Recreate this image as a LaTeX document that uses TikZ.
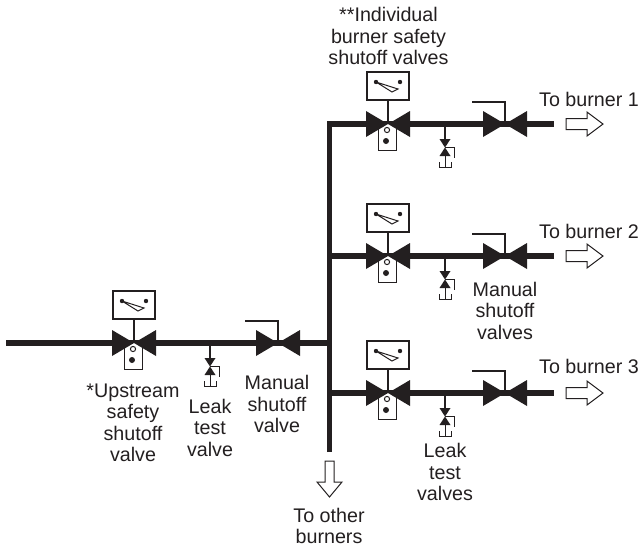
\documentclass[tikz,border=0pt]{standalone}
\usepackage{fontspec}
\setmainfont{Liberation Sans}
\definecolor{ink}{HTML}{231F20}
\tikzset{
  x=1pt,y=-1pt,
  pipe/.style={draw=ink,line width=5.5pt},
  thin line/.style={draw=ink,line width=1.7pt},
  fine/.style={draw=ink,line width=1pt},
  tri/.style={fill=ink,draw=none},
  label/.style={font=\fontsize{19.7}{21.5}\selectfont,text=ink,align=center,inner sep=0pt},
  hollow arrow/.style={draw=ink,line width=1pt,fill=white,line join=miter},
}
% #1 name, #2 x, #3 y
\newcommand{\safetyvalve}[3]{
  \begin{scope}[shift={(#2,#3)}]
    \coordinate (#1w) at (-22,0);
    \coordinate (#1e) at (22,0);
    \draw[fine,fill=white] (-10,0) -- (-10,26) -- (8,26) -- (8,0);
    \fill[ink] (-2,17) circle (3pt);
    \draw[thin line] (-21,-52) rectangle (21,-24);
    \draw[thin line] (0,-24) -- (0,0);
    \fill[tri] (-22,-13) -- (0,0) -- (-22,13) -- cycle;
    \fill[tri] (22,-13) -- (0,0) -- (22,13) -- cycle;
    \draw[fine,fill=white] (-1,6) circle (2.6pt);
    \fill[ink] (-12,-42) circle (2.2pt);
    \fill[ink] (12,-42) circle (2.2pt);
    \draw[fine] (-12,-42) -- (10,-35) -- (4,-32) -- (-12,-42);
  \end{scope}
}
\newcommand{\manualvalve}[3]{
  \begin{scope}[shift={(#2,#3)}]
    \coordinate (#1w) at (-22,0);
    \coordinate (#1e) at (22,0);
    \draw[draw=ink,line width=1.4pt] (-33,-22) -- (0,-22) -- (0,0);
    \fill[tri] (-22,-13) -- (0,0) -- (-22,13) -- cycle;
    \fill[tri] (22,-13) -- (0,0) -- (22,13) -- cycle;
  \end{scope}
}
\newcommand{\leakvalve}[3]{
  \begin{scope}[shift={(#2,#3)}]
    \coordinate (#1t) at (0,0);
    \draw[thin line] (0,0) -- (0,16);
    \fill[tri] (-5.5,15) -- (5.5,15) -- (0,23.5) -- cycle;
    \fill[tri] (-5.5,32) -- (5.5,32) -- (0,23.5) -- cycle;
    \draw[fine] (0,23.5) -- (9,23.5) -- (9,34);
    \draw[fine] (0,32) -- (0,43);
    \draw[fine] (-6,38) -- (-6,43) -- (6,43) -- (6,38);
  \end{scope}
}
\newcommand{\rightarrowshape}[3]{
  \draw[hollow arrow] (#2,#3-5.5) -- (#2+21,#3-5.5) -- (#2+21,#3-12) -- (#2+37,#3) -- (#2+21,#3+12) -- (#2+21,#3+5.5) -- (#2,#3+5.5) -- cycle;
}
\begin{document}
\begin{tikzpicture}
\useasboundingbox (0,0) rectangle (642,550);
% main pipes
\coordinate (inlet) at (6,343);
\coordinate (tee) at (329.5,343);
\coordinate (top) at (329.5,124);
\coordinate (bottom) at (329.5,452);
\coordinate (j2) at (329.5,256);
\coordinate (j3) at (329.5,393);
\coordinate (end1) at (554,124);
\coordinate (end2) at (554,256);
\coordinate (end3) at (554,393);
\path[pipe] (inlet) -- (tee);
\path[pipe] (bottom) -- (top) -- (end1);
\path[pipe] (j2) -- (end2);
\path[pipe] (j3) -- (end3);
% valves
\safetyvalve{a}{134}{343}
\leakvalve{al}{210}{343}
\manualvalve{am}{278}{343}
\safetyvalve{b}{388}{124}
\leakvalve{bl}{445}{124}
\manualvalve{bm}{505}{124}
\safetyvalve{c}{388}{256}
\leakvalve{cl}{445}{256}
\manualvalve{cm}{505}{256}
\safetyvalve{d}{388}{393}
\leakvalve{dl}{445}{393}
\manualvalve{dm}{505}{393}
% arrows
\rightarrowshape{r1}{566}{124}
\rightarrowshape{r2}{566}{256}
\rightarrowshape{r3}{566}{393}
\draw[hollow arrow] (325,461) -- (334,461) -- (334,482) -- (342,482) -- (329.5,497) -- (317,482) -- (325,482) -- cycle;
% text
\node[label] (t1) at (388.5,36) {**Individual\\burner safety\\shutoff valves};
\node[label] (t2) at (589,99) {To burner 1};
\node[label] (t3) at (589,231) {To burner 2};
\node[label] (t4) at (589,366.5) {To burner 3};
\node[label] (t5) at (505,310.5) {Manual\\shutoff\\valves};
\node[label] (t6) at (133,423) {*Upstream\\safety\\shutoff\\valve};
\node[label] (t7) at (210,427.5) {Leak\\test\\valve};
\node[label] (t8) at (277,404) {Manual\\shutoff\\valve};
\node[label] (t9) at (445,472) {Leak\\test\\valves};
\node[label] (t10) at (329,526) {To other\\burners};
\end{tikzpicture}
\end{document}
